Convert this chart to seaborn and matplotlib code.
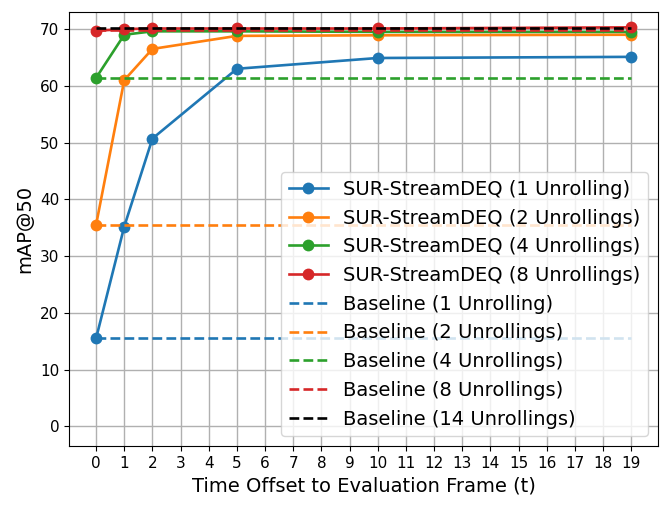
import matplotlib
matplotlib.use('Agg')
import matplotlib.pyplot as plt
import seaborn as sns

# time offsets where the models were evaluated
timeOffsets = [0, 1, 2, 5, 10, 19]

# SUR-StreamDEQ mAP@50 per number of unrollings
sur1 = [15.5, 35.2, 50.7, 63.0, 64.9, 65.1]
sur2 = [35.5, 61.0, 66.5, 68.8, 68.9, 69.0]
sur4 = [61.4, 69.0, 69.6, 69.6, 69.5, 69.5]
sur8 = [69.7, 70.0, 70.1, 70.1, 70.1, 70.3]

# baselines (constant over time)
baseline1 = 15.5
baseline2 = 35.5
baseline4 = 61.3
baseline8 = 69.9
baseline14 = 70.2

surLabels = ['SUR-StreamDEQ (1 Unrolling)', 'SUR-StreamDEQ (2 Unrollings)',
             'SUR-StreamDEQ (4 Unrollings)', 'SUR-StreamDEQ (8 Unrollings)']
baseLabels = ['Baseline (1 Unrolling)', 'Baseline (2 Unrollings)', 'Baseline (4 Unrollings)',
              'Baseline (8 Unrollings)', 'Baseline (14 Unrollings)']
colors = ['#1f77b4', '#ff7f0e', '#2ca02c', '#d62728', 'black']

fig, ax = plt.subplots(figsize=(6.64, 5.11), dpi=100)
fig.subplots_adjust(left=0.104, right=0.991, top=0.977, bottom=0.127)

for vals, label, color in zip([sur1, sur2, sur4, sur8], surLabels, colors):
    sns.lineplot(x=timeOffsets, y=vals, marker='o', markersize=8.5, markeredgewidth=0,
                 color=color, linewidth=1.9, label=label, ax=ax)

xSpan = [timeOffsets[0], timeOffsets[-1]]
for b, label, color in zip([baseline1, baseline2, baseline4, baseline8, baseline14], baseLabels, colors):
    sns.lineplot(x=xSpan, y=[b, b], linestyle='--', color=color, linewidth=1.9, label=label, ax=ax)

ax.set_xticks(range(0, 20))
ax.set_xlim(-0.96, 19.95)
ax.set_ylim(-3.5, 73.05)
ax.tick_params(labelsize=11)
ax.set_xlabel('Time Offset to Evaluation Frame (t)', fontsize=14)
ax.set_ylabel('mAP@50', fontsize=14)
ax.grid(True, linewidth=1.0)
ax.legend(loc='lower right', fontsize=14)

plt.savefig('out.png')
